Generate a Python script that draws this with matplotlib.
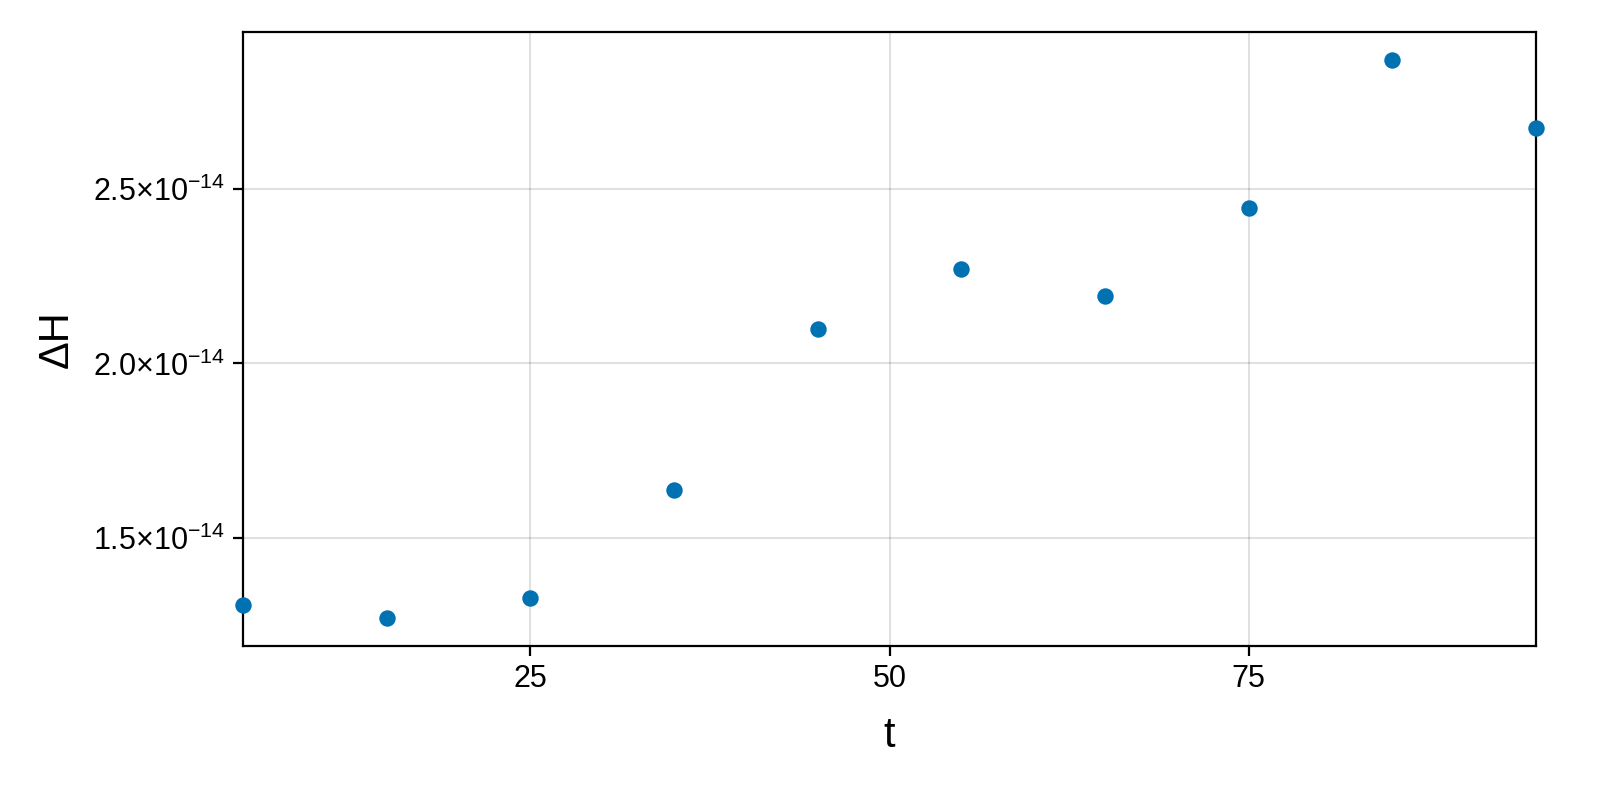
import matplotlib
matplotlib.use("Agg")
import matplotlib.pyplot as plt
from matplotlib.ticker import FixedLocator, FuncFormatter

plt.rcParams["font.family"] = ["Liberation Sans", "DejaVu Sans"]
plt.rcParams["mathtext.fontset"] = "custom"
plt.rcParams["mathtext.rm"] = "Liberation Sans"
plt.rcParams["mathtext.it"] = "Liberation Sans"

t = [5, 15, 25, 35, 45, 55, 65, 75, 85, 95]
dH = [1.3086e-14, 1.2714e-14, 1.3286e-14, 1.6371e-14, 2.1000e-14,
      2.2714e-14, 2.1943e-14, 2.4457e-14, 2.8686e-14, 2.6743e-14]
xticks = [25, 50, 75]
yticks = [1.5e-14, 2.0e-14, 2.5e-14]


def fmt_y(v, pos):
    return r"$\mathregular{%.1f{\times}10^{-14}}$" % (v / 1e-14)


fig = plt.figure(figsize=(16, 8), dpi=100)
ax = fig.add_axes([243 / 1600, 1 - 646 / 800, (1536 - 243) / 1600, (646 - 32) / 800])
ax.scatter(t, dH, s=140, color="#0072B2", zorder=3, clip_on=False,
           linewidths=0)
ax.set_xlim(5, 95)
lo, hi = min(dH), max(dH)
pad = 0.05 * (hi - lo)
ax.set_ylim(lo - pad, hi + pad)
ax.xaxis.set_major_locator(FixedLocator(xticks))
ax.yaxis.set_major_locator(FixedLocator(yticks))
ax.yaxis.set_major_formatter(FuncFormatter(fmt_y))
ax.grid(True, color="#000000", alpha=0.12, lw=1.5)
ax.set_axisbelow(True)
for s in ax.spines.values():
    s.set_linewidth(1.6)
ax.tick_params(direction="out", length=7, width=1.6, labelsize=22, pad=6)
ax.set_xlabel("t", fontsize=30, labelpad=16)
ax.set_ylabel("ΔH", fontsize=30, labelpad=12)
fig.savefig("out.png", dpi=100)
